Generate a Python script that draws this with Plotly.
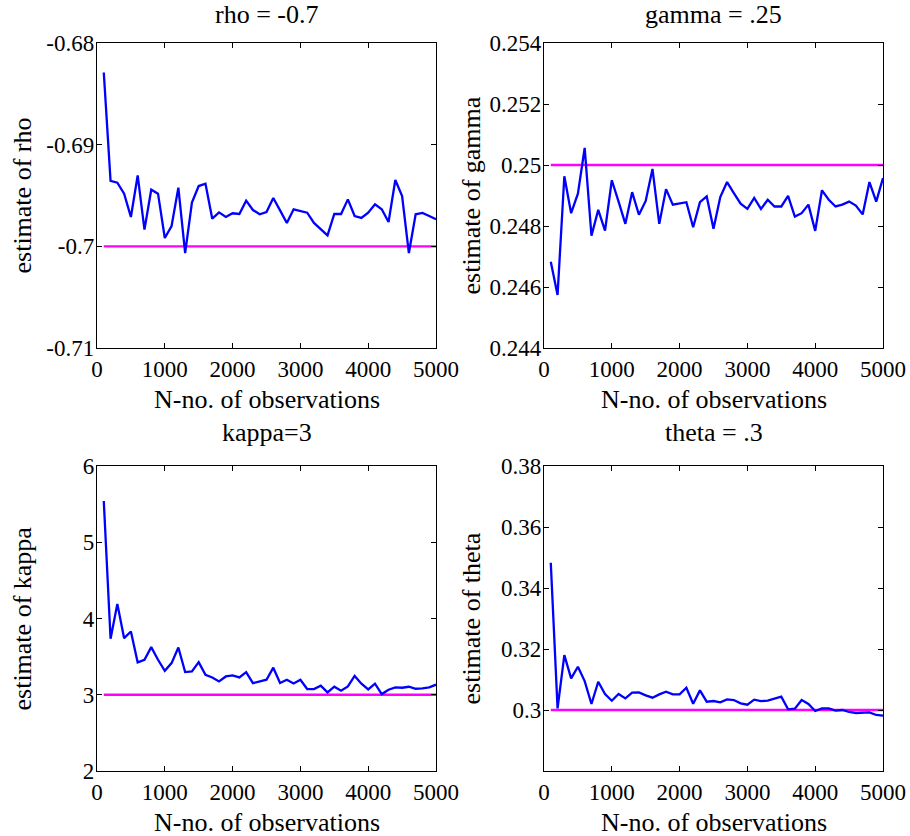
import plotly.graph_objects as go

W, H = 910, 836

# ---------------- data ----------------
N = list(range(100, 5001, 100))

rho_est = [-0.6829, -0.69357, -0.69374, -0.69482, -0.69711, -0.69302, -0.69836, -0.69443, -0.69482, -0.69918,
           -0.69800, -0.69423, -0.70066, -0.69570, -0.69407, -0.69384, -0.69728, -0.69666, -0.69711, -0.69675,
           -0.69682, -0.69551, -0.69643, -0.69685, -0.69662, -0.69525, -0.69646, -0.69770, -0.69636, -0.69652,
           -0.69669, -0.69770, -0.69833, -0.69892, -0.69682, -0.69682, -0.69538, -0.69702, -0.69721, -0.69669,
           -0.69587, -0.69636, -0.69761, -0.69348, -0.69505, -0.70066, -0.69685, -0.69672, -0.69702, -0.69734]

gamma_est = [0.24683, 0.24574, 0.24963, 0.24842, 0.24906, 0.25056, 0.24768, 0.24853, 0.24785, 0.24950,
             0.24880, 0.24807, 0.24911, 0.24837, 0.24882, 0.24987, 0.24807, 0.24921, 0.24870, 0.24873,
             0.24878, 0.24796, 0.24878, 0.24897, 0.24791, 0.24895, 0.24944, 0.24908, 0.24873, 0.24856,
             0.24892, 0.24856, 0.24886, 0.24864, 0.24864, 0.24899, 0.24831, 0.24842, 0.24870, 0.24784,
             0.24917, 0.24886, 0.24864, 0.24870, 0.24880, 0.24867, 0.24838, 0.24944, 0.24880, 0.24957]

kappa_est = [5.541, 3.734, 4.192, 3.742, 3.830, 3.424, 3.459, 3.624, 3.459, 3.314,
             3.415, 3.620, 3.297, 3.306, 3.428, 3.262, 3.227, 3.175, 3.240, 3.253,
             3.227, 3.297, 3.153, 3.175, 3.197, 3.355, 3.154, 3.197, 3.149, 3.197,
             3.075, 3.075, 3.118, 3.031, 3.105, 3.053, 3.110, 3.246, 3.145, 3.070,
             3.145, 3.009, 3.066, 3.096, 3.092, 3.105, 3.079, 3.083, 3.096, 3.132]

theta_est = [0.3483, 0.30054, 0.3180, 0.31035, 0.31417, 0.30948, 0.30196, 0.30926, 0.30523, 0.30305,
             0.30523, 0.30381, 0.30567, 0.30578, 0.30480, 0.30403, 0.30512, 0.30599, 0.30512, 0.30512,
             0.30730, 0.30207, 0.30643, 0.30272, 0.30294, 0.30251, 0.30349, 0.30327, 0.30218, 0.30174,
             0.30338, 0.30294, 0.30305, 0.30381, 0.30436, 0.30022, 0.30044, 0.30327, 0.30196, 0.29967,
             0.30054, 0.30054, 0.29978, 0.30000, 0.29935, 0.29902, 0.29913, 0.29924, 0.29837, 0.29815]

true_vals = [-0.7, 0.25, 3, 0.3]
titles = ["rho = -0.7", "gamma = .25", "kappa=3", "theta = .3"]
ylabels = ["estimate of rho", "estimate of gamma", "estimate of kappa", "estimate of theta"]
xlabel = "N-no. of observations"

x_tickvals = [0, 1000, 2000, 3000, 4000, 5000]
x_ticktext = ["0", "1000", "2000", "3000", "4000", "5000"]

y_ranges = [[-0.71, -0.68], [0.244, 0.254], [2, 6], [0.28, 0.38]]
y_tickvals = [[-0.71, -0.70, -0.69, -0.68],
              [0.244, 0.246, 0.248, 0.250, 0.252, 0.254],
              [2, 3, 4, 5, 6],
              [0.30, 0.32, 0.34, 0.36, 0.38]]
y_ticktext = [["-0.71", "-0.7", "-0.69", "-0.68"],
              ["0.244", "0.246", "0.248", "0.25", "0.252", "0.254"],
              ["2", "3", "4", "5", "6"],
              ["0.3", "0.32", "0.34", "0.36", "0.38"]]

series = [rho_est, gamma_est, kappa_est, theta_est]

# ---------------- layout (pixels) ----------------
FONT = "Liberation Serif, Times New Roman, serif"
TICK_SIZE = 23
LABEL_SIZE = 26

panels_px = [  # left, right, top, bottom
    (97, 436, 43, 348),
    (544, 883, 43, 348),
    (97, 436, 466, 771),
    (544, 883, 466, 771),
]
ylabel_x = [22, 471, 22, 471]
title_gap = [28, 28, 34, 34]

def px_x(p):
    return p / W

def px_y(p):
    return 1 - p / H

fig = go.Figure()
annotations = []

for i in range(4):
    l, r, t, b = panels_px[i]
    ax = "" if i == 0 else str(i + 1)
    xa, ya = "x" + ax, "y" + ax
    fig.add_trace(go.Scatter(x=[N[0], N[-1]], y=[true_vals[i]] * 2, mode="lines",
                             line=dict(color="#FF00FF", width=2.4), xaxis=xa, yaxis=ya,
                             showlegend=False, hoverinfo="skip"))
    fig.add_trace(go.Scatter(x=N, y=series[i], mode="lines",
                             line=dict(color="#0000FF", width=2.3), xaxis=xa, yaxis=ya,
                             showlegend=False))
    common = dict(showgrid=False, zeroline=False, showline=True, linecolor="black", linewidth=1.3,
                  mirror="ticks", ticks="inside", ticklen=5, tickwidth=1, tickcolor="black",
                  automargin=False,
                  tickfont=dict(family=FONT, size=TICK_SIZE, color="black"))
    fig.layout["xaxis" + ax] = dict(domain=[px_x(l), px_x(r)], range=[0, 5000], anchor=ya,
                                    tickvals=x_tickvals, ticktext=x_ticktext, **common)
    fig.layout["yaxis" + ax] = dict(domain=[px_y(b), px_y(t)], range=y_ranges[i], anchor=xa,
                                    tickvals=y_tickvals[i], ticktext=y_ticktext[i],
                                    ticklabelstandoff=-3, **common)
    cx = (l + r) / 2
    cy = (t + b) / 2
    annotations.append(dict(text=titles[i], x=px_x(cx), y=px_y(t - title_gap[i]), xref="paper", yref="paper",
                            showarrow=False, xanchor="center", yanchor="middle",
                            font=dict(family=FONT, size=LABEL_SIZE, color="black")))
    annotations.append(dict(text=xlabel, x=px_x(cx), y=px_y(b + 51), xref="paper", yref="paper",
                            showarrow=False, xanchor="center", yanchor="middle",
                            font=dict(family=FONT, size=LABEL_SIZE, color="black")))
    annotations.append(dict(text=ylabels[i], x=px_x(ylabel_x[i]), y=px_y(cy), xref="paper", yref="paper",
                            showarrow=False, xanchor="center", yanchor="middle", textangle=-90,
                            font=dict(family=FONT, size=LABEL_SIZE, color="black")))

fig.update_layout(width=W, height=H, margin=dict(l=0, r=0, t=0, b=0, autoexpand=False),
                  paper_bgcolor="white", plot_bgcolor="white",
                  annotations=annotations, showlegend=False)

# remove the default 8px page margin so the figure sits at the window's corner
fig.write_html("out.html", config={"displayModeBar": False},
               post_script="document.body.style.margin='0';")
